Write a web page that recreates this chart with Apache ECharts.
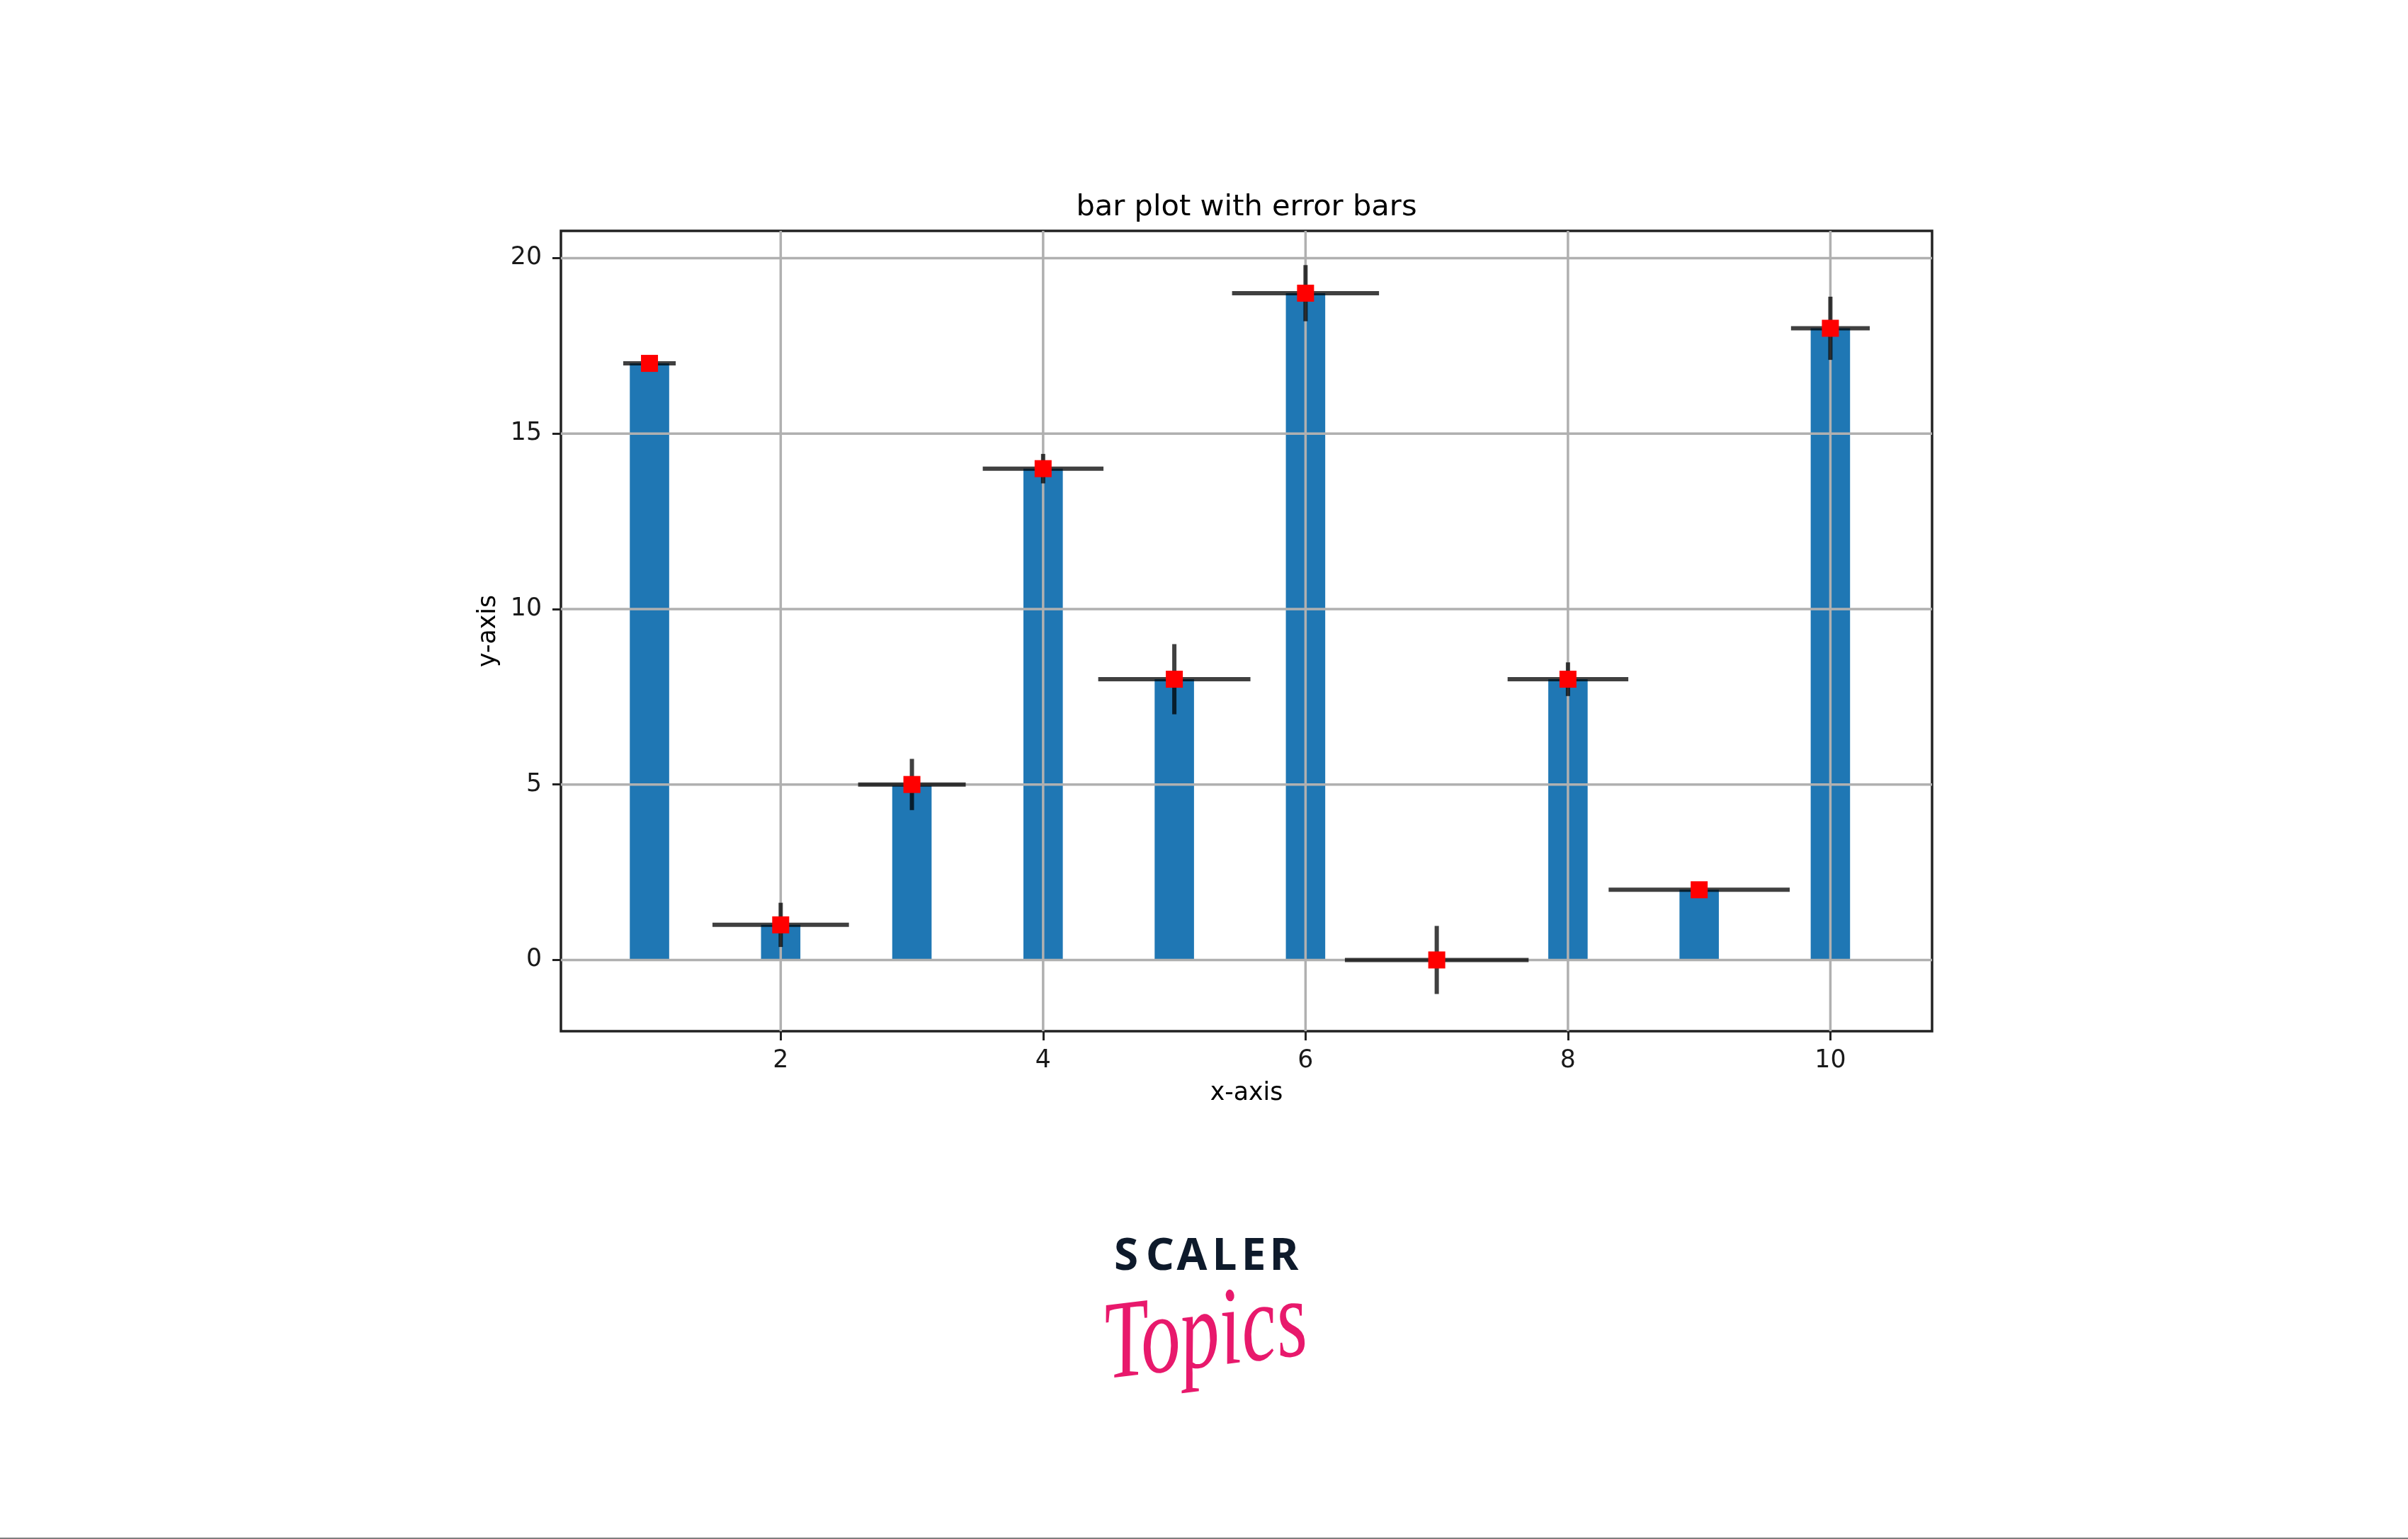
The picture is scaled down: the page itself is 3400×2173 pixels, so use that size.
<!DOCTYPE html>
<html><head><meta charset="utf-8">
<script src="https://cdn.jsdelivr.net/npm/echarts@6/dist/echarts.min.js"></script>
<style>html,body{margin:0;padding:0;background:#fff}#c{width:3400px;height:2173px}</style>
</head><body><div id="c"></div>
<script>
// ---- data ----
const xValues = [1, 2, 3, 4, 5, 6, 7, 8, 9, 10];
const barHeights = [17, 1, 5, 14, 8, 19, 0, 8, 2, 18];
const xErrors = [0.2, 0.52, 0.41, 0.46, 0.58, 0.56, 0.7, 0.46, 0.69, 0.3];
const yErrors = [0.15, 0.63, 0.73, 0.42, 1.0, 0.8, 0.97, 0.48, 0.15, 0.9];
const xTickValues = [2, 4, 6, 8, 10];
const yTickValues = [0, 5, 10, 15, 20];
const xLimits = [0.325, 10.775];
const yLimits = [-2.03, 20.775];
const titleText = 'bar plot with error bars';
const xName = 'x-axis';
const yName = 'y-axis';

const FONT = 'DejaVu Sans';
const chart = echarts.init(document.getElementById('c'), null, {renderer: 'canvas'});

const barData = xValues.map((x, i) => [x, barHeights[i]]);
const errData = xValues.map((x, i) => [x, barHeights[i], xErrors[i], yErrors[i]]);

const logoLetters = ['S', 'C', 'A', 'L', 'E', 'R'];
const logoX = [1590, 1638, 1683, 1729, 1770, 1813];

const option = {
  animation: false,
  backgroundColor: '#ffffff',
  grid: {
    left: 792, top: 326, right: 672, bottom: 717,
    show: true, borderColor: '#222222', borderWidth: 3.5, backgroundColor: 'transparent',
    containLabel: false
  },
  xAxis: {
    type: 'value', min: xLimits[0], max: xLimits[1],
    axisLine: {show: false, onZero: false},
    axisTick: {show: true, customValues: xTickValues, length: 13, lineStyle: {color: '#222222', width: 3}},
    axisLabel: {customValues: xTickValues, margin: 24, fontSize: 34.7, fontFamily: FONT, color: '#1a1a1a'},
    splitLine: {show: false}
  },
  yAxis: {
    type: 'value', min: yLimits[0], max: yLimits[1],
    axisLine: {show: false, onZero: false},
    axisTick: {show: true, customValues: yTickValues, length: 12, lineStyle: {color: '#222222', width: 3}},
    axisLabel: {customValues: yTickValues, margin: 27, fontSize: 34.7, fontFamily: FONT, color: '#1a1a1a'},
    splitLine: {show: false}
  },
  series: [
    {
      type: 'bar', z: 1, data: barData, barWidth: '30%',
      itemStyle: {color: '#1f77b4'}, silent: true
    },
    {
      type: 'custom', z: 2, silent: true, clip: true,
      data: xTickValues.map(v => [v, yLimits[0]]),
      encode: {x: 0, y: 1},
      renderItem: (params, api) => {
        const x = api.value(0);
        const p1 = api.coord([x, yLimits[0]]);
        const p2 = api.coord([x, yLimits[1]]);
        return {type: 'line', shape: {x1: p1[0], y1: p1[1], x2: p2[0], y2: p2[1]},
                style: {stroke: '#b0b0b0', lineWidth: 3.5}};
      }
    },
    {
      type: 'custom', z: 2, silent: true, clip: true,
      data: yTickValues.map(v => [xLimits[0], v]),
      encode: {x: 0, y: 1},
      renderItem: (params, api) => {
        const y = api.value(1);
        const p1 = api.coord([xLimits[0], y]);
        const p2 = api.coord([xLimits[1], y]);
        return {type: 'line', shape: {x1: p1[0], y1: p1[1], x2: p2[0], y2: p2[1]},
                style: {stroke: '#b0b0b0', lineWidth: 3.5}};
      }
    },
    {
      type: 'custom', z: 3, silent: true,
      data: errData,
      encode: {x: 0, y: 1},
      renderItem: (params, api) => {
        const x = api.value(0), y = api.value(1), ex = api.value(2), ey = api.value(3);
        const l = api.coord([x - ex, y]), r = api.coord([x + ex, y]);
        const t = api.coord([x, y + ey]), b = api.coord([x, y - ey]);
        const st = {stroke: 'rgba(0,0,0,0.75)', lineWidth: 6, fill: null, lineCap: 'butt'};
        return {type: 'group', children: [
          {type: 'line', shape: {x1: l[0], y1: l[1], x2: r[0], y2: r[1]}, style: st},
          {type: 'line', shape: {x1: t[0], y1: t[1], x2: b[0], y2: b[1]}, style: st}
        ]};
      }
    },
    {
      type: 'scatter', z: 4, silent: true,
      data: barData, symbol: 'rect', symbolSize: 24,
      itemStyle: {color: '#ff0000', opacity: 1}
    }
  ],
  graphic: [
    {type: 'text', x: 1760, y: 293, style: {text: titleText, font: '41.6px "DejaVu Sans"', fill: '#000', align: 'center', verticalAlign: 'middle'}},
    {type: 'text', x: 1760, y: 1544, style: {text: xName, font: '34.7px "DejaVu Sans"', fill: '#000', align: 'center', verticalAlign: 'middle'}},
    {type: 'text', x: 690, y: 891, rotation: Math.PI / 2, style: {text: yName, font: '34.7px "DejaVu Sans"', fill: '#000', align: 'center', verticalAlign: 'middle'}},
    ...logoLetters.map((ch, i) => ({
      type: 'text', x: logoX[i], y: 1775,
      style: {text: ch, font: 'bold 62px "Noto Sans"', fill: '#0e1a2b', align: 'center', verticalAlign: 'middle'}
    })),
    {type: 'text', x: 1702, y: 1888, rotation: 0.12, scaleY: 1.4,
     style: {text: 'Topics', font: 'italic 112px "Liberation Serif"', fill: '#e8196c', align: 'center', verticalAlign: 'middle'}},
    {type: 'rect', shape: {x: 0, y: 2171, width: 3400, height: 2}, style: {fill: '#7f7f7f'}}
  ]
};
chart.setOption(option);
</script>
</body></html>
